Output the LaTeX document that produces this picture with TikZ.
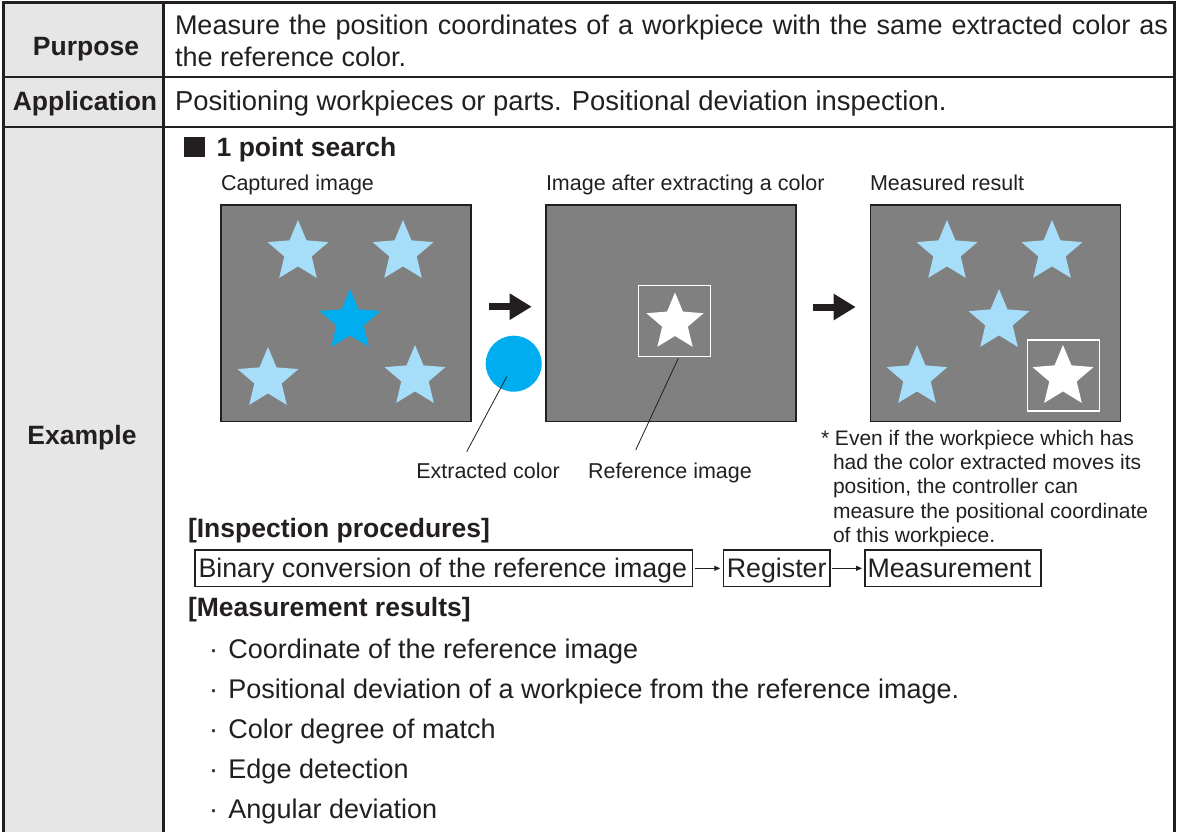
\documentclass[tikz,border=0pt]{standalone}
\usepackage{fontspec}
\setmainfont{Liberation Sans}
\usetikzlibrary{arrows.meta}
\definecolor{ink}{HTML}{231F20}
\definecolor{leftcol}{HTML}{E6E6E6}
\definecolor{panelgray}{HTML}{808080}
\definecolor{lb}{HTML}{A6DDF8}
\definecolor{db}{HTML}{00ADEE}
\newcommand{\boxstrut}{\rule[-5.5pt]{0pt}{30.2pt}}
\tikzset{
  txt/.style={inner sep=0pt, outer sep=0pt, text=ink},
  big/.style={font=\fontsize{27}{32}\selectfont},
  bigb/.style={font=\fontsize{26.5}{32}\selectfont\bfseries},
  small/.style={font=\fontsize{21.5}{24}\selectfont},
  notefont/.style={font=\fontsize{21}{24.2}\selectfont},
  panel/.style={draw=ink, line width=1.3pt, fill=panelgray, inner sep=0pt, outer sep=0pt,
    minimum width=250pt, minimum height=216.7pt, anchor=north west},
  refbox/.style={draw=white, line width=1.5pt},
  pbox/.style={draw=ink, line width=1.2pt, inner ysep=0pt, outer sep=0pt, minimum height=36.7pt,
    font=\fontsize{26.8}{30}\selectfont, text=ink, anchor=west},
  bigarrow/.style={draw=ink, line width=7pt, -{Triangle[length=22pt,width=25pt]}},
  smallarrow/.style={draw=ink, line width=1pt, -{Triangle[length=6pt,width=5pt]}, shorten <=2pt, shorten >=3pt},
  leader/.style={draw=ink, line width=0.8pt},
  pics/mystar/.style args={#1/#2}{code={
    \fill[#1] (-90:#2) -- (-54:0.45*#2) -- (-18:#2) -- (18:0.45*#2) -- (54:#2)
      -- (90:0.45*#2) -- (126:#2) -- (162:0.45*#2) -- (198:#2) -- (234:0.45*#2) -- cycle;
  }}
}
\begin{document}
\begin{tikzpicture}[x=1pt,y=-1pt]
\useasboundingbox (0,0) rectangle (1177,832);
\fill[white] (0,0) rectangle (1177,832);
% table
\fill[leftcol] (3,3) rectangle (163,832);
\draw[ink, line width=2pt] (3,77.5) -- (1174,77.5);
\draw[ink, line width=2pt] (3,127) -- (1174,127);
\draw[ink, line width=3pt] (163,2.5) -- (163,832);
\draw[ink, line width=3pt] (3,832) -- (3,2.5) -- (1174,2.5) -- (1174,832);

% left column labels
\node[txt,bigb,anchor=base] (purp) at (86,55.5) {Purpose};
\node[txt,bigb,anchor=base] (appl) at (85,110.5) {Application};
\node[txt,bigb,anchor=base] (exam) at (82,444.5) {Example};

% right column text
\node[txt,big,anchor=base west] (purpt) at (175,34.7) {\parbox[t]{993pt}{\makebox[993pt][s]{Measure the position coordinates of a workpiece with the same extracted color as}\\the reference color.}};
\node[txt,big,anchor=base west] (applt) at (175,110.7) {\fontsize{27.4}{32}\selectfont Positioning workpieces or parts. Positional deviation inspection.};

% heading
\fill[ink] (184,137) rectangle (205,157);
\node[txt,bigb,anchor=base west] (ops) at (216.7,156) {1 point search};

% captions
\node[txt,small,anchor=base west] (cap1) at (221,190.8) {Captured image};
\node[txt,small,anchor=base west] (cap2) at (546,190.8) {Image after extracting a color};
\node[txt,small,anchor=base west] (cap3) at (870,190.8) {Measured result};

% panels
\node[panel] (p1) at (221,205) {};
\node[panel] (p2) at (546,205) {};
\node[panel] (p3) at (870.7,205) {};

% panel 1 stars
\pic at (298,252) {mystar=lb/32};
\pic at (403,252) {mystar=lb/32};
\pic at (350,321) {mystar=db/32};
\pic at (268,379) {mystar=lb/32};
\pic at (415,377) {mystar=lb/32};

% extracted color circle
\node[circle, fill=db, minimum size=56pt, inner sep=0pt] (ec) at (513.7,363.7) {};

% panel 2
\draw[refbox] (638.3,285.7) rectangle (710.3,356.7);
\pic at (675,322.5) {mystar=white/30};

% panel 3 stars
\pic at (947,252) {mystar=lb/32};
\pic at (1052,252) {mystar=lb/32};
\pic at (999,321) {mystar=lb/32};
\pic at (917,377) {mystar=lb/32};
\draw[refbox] (1027.7,340) rectangle (1099.3,411);
\pic at (1063,377) {mystar=white/32};

% big arrows
\coordinate (a1s) at (489,306.7);
\coordinate (a1e) at (531.7,306.7);
\coordinate (a2s) at (813,307);
\coordinate (a2e) at (855.7,307);
\draw[bigarrow] (a1s) -- (a1e);
\draw[bigarrow] (a2s) -- (a2e);

% labels and leaders
\node[txt,small,anchor=base] (lab1) at (488,478.7) {Extracted color};
\node[txt,small,anchor=base] (lab2) at (670,478.7) {Reference image};
\coordinate (ecin) at (506.7,376.7);
\coordinate (ecend) at (466.7,451.7);
\coordinate (rbin) at (678.3,358.3);
\coordinate (rbend) at (635.7,450);
\draw[leader] (ecin) -- (ecend);
\draw[leader] (rbin) -- (rbend);

% note
\node[txt,notefont,anchor=base west] (note) at (821,445.5) {\parbox[t]{350pt}{* Even if the workpiece which has\\\hspace*{12pt}had the color extracted moves its\\\hspace*{12pt}position, the controller can\\\hspace*{12pt}measure the positional coordinate\\\hspace*{12pt}of this workpiece.}};

% inspection procedures
\node[txt,bigb,anchor=base west] (insp) at (188,537.7) {[Inspection procedures]};
\node[pbox, inner xsep=3.5pt] (b1) at (195,568.3) {\boxstrut\makebox[490.7pt][l]{Binary conversion of the reference image}};
\node[pbox, inner xsep=0pt, minimum width=106.7pt] (b2) at (723.3,568.3) {\boxstrut Register};
\node[pbox, inner xsep=2.5pt] (b3) at (865,568.3) {\boxstrut\makebox[171pt][l]{Measurement}};
\draw[smallarrow] (b1.east) -- (b2.west);
\draw[smallarrow] (b2.east) -- (b3.west);

% measurement results
\node[txt,bigb,anchor=base west] (meas) at (188,616.7) {[Measurement results]};
\node[txt,big,anchor=base west] (r1) at (209,658.7) {·\hspace{10.5pt}Coordinate of the reference image};
\node[txt,big,anchor=base west] (r2) at (209,698.7) {·\hspace{10.5pt}Positional deviation of a workpiece from the reference image.};
\node[txt,big,anchor=base west] (r3) at (209,738.7) {·\hspace{10.5pt}Color degree of match};
\node[txt,big,anchor=base west] (r4) at (209,778.7) {·\hspace{10.5pt}Edge detection};
\node[txt,big,anchor=base west] (r5) at (209,818.7) {·\hspace{10.5pt}Angular deviation};
\end{tikzpicture}
\end{document}
